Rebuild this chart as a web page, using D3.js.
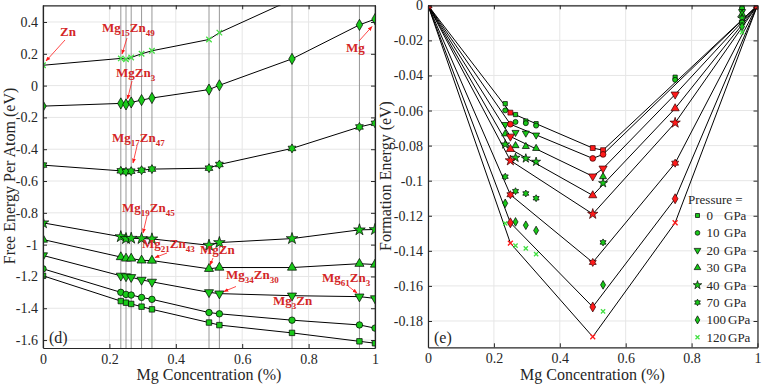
<!DOCTYPE html>
<html>
<head>
<meta charset="utf-8">
<script src="https://cdn.jsdelivr.net/npm/d3@7"></script>
<style>
body { margin: 0; background: #fff; }
svg, svg text { font-family: "Liberation Serif", "DejaVu Serif", serif; }
</style>
</head>
<body>
<svg id="chart" width="763" height="387"></svg>
<script>
// Mg fraction of each phase: Zn, Mg15Zn49, MgZn3, Mg17Zn47, Mg19Zn45, Mg21Zn43, MgZn, Mg34Zn30, Mg3Zn, Mg61Zn3, Mg
const mgConc = [0, 15/64, 16/64, 17/64, 19/64, 21/64, 0.5, 34/64, 0.75, 61/64, 1];
const pressures = [0, 10, 20, 30, 40, 70, 100, 120];
const shapes = ['square', 'circle', 'triDown', 'triUp', 'star', 'hexagram', 'diamond', 'x'];

// free energy per atom (eV), one list per pressure
const free0   = [-1.196, -1.355, -1.365, -1.373, -1.39, -1.407, -1.49, -1.506, -1.555, -1.608, -1.62];
const free10  = [-1.152, -1.3, -1.313, -1.317, -1.332, -1.344, -1.427, -1.435, -1.475, -1.505, -1.525];
const free20  = [-1.068, -1.196, -1.2, -1.205, -1.222, -1.234, -1.3, -1.308, -1.321, -1.327, -1.338];
const free30  = [-0.968, -1.078, -1.087, -1.087, -1.099, -1.1, -1.152, -1.144, -1.144, -1.12, -1.125];
const free40  = [-0.863, -0.95, -0.962, -0.96, -0.962, -0.964, -1.004, -0.987, -0.962, -0.907, -0.905];
const free70  = [-0.5, -0.536, -0.542, -0.538, -0.532, -0.525, -0.519, -0.496, -0.395, -0.26, -0.237];
const free100 = [-0.129, -0.112, -0.118, -0.106, -0.091, -0.078, -0.025, 0.002, 0.168, 0.382, 0.418];
const free120 = [0.128, 0.171, 0.166, 0.177, 0.2, 0.219, 0.29, 0.333, 0.541, 0.796, 0.845];
const freeEnergy = [free0, free10, free20, free30, free40, free70, free100, free120];

// formation energy (eV), one list per pressure
const form0   = [0, -0.0561, -0.0612, -0.0623, -0.066, -0.0675, -0.0814, -0.0826, -0.041, -0.0008, 0];
const form10  = [0, -0.0599, -0.0678, -0.0665, -0.0672, -0.0686, -0.0873, -0.085, -0.0425, -0.0017, 0];
const form20  = [0, -0.068, -0.0748, -0.0725, -0.0729, -0.074, -0.0975, -0.093, -0.0508, -0.0036, 0];
const form30  = [0, -0.0733, -0.082, -0.08, -0.0805, -0.0816, -0.1084, -0.0977, -0.0588, -0.005, 0];
const form40  = [0, -0.0793, -0.0885, -0.0869, -0.0873, -0.0892, -0.119, -0.1014, -0.067, -0.0074, 0];
const form70  = [0, -0.0977, -0.108, -0.106, -0.1073, -0.11, -0.1466, -0.1352, -0.09, -0.0098, 0];
const form100 = [0, -0.1129, -0.124, -0.1235, -0.1254, -0.1284, -0.172, -0.1594, -0.1103, -0.0121, 0];
const form120 = [0, -0.1243, -0.1356, -0.137, -0.1386, -0.1419, -0.189, -0.1745, -0.124, -0.0153, 0];
const formEnergy = [form0, form10, form20, form30, form40, form70, form100, form120];

// indices of phases on the convex hull for each pressure
const hull = [
  [0, 2, 6, 7, 10], [0, 2, 6, 7, 10], [0, 2, 6, 7, 8, 10], [0, 2, 6, 8, 10],
  [0, 2, 6, 8, 10], [0, 2, 6, 8, 10], [0, 2, 6, 8, 10], [0, 2, 6, 8, 10]
];

const xTicks = [0, 0.2, 0.4, 0.6, 0.8, 1];
const leftTicks = [0.4, 0.2, 0, -0.2, -0.4, -0.6, -0.8, -1, -1.2, -1.4, -1.6];
const rightTicks = [0, -0.02, -0.04, -0.06, -0.08, -0.1, -0.12, -0.14, -0.16, -0.18];

// phase labels: [text, subscript] pieces
const labels = [
  [['Zn', '']],
  [['Mg', '15'], ['Zn', '49']],
  [['MgZn', '3']],
  [['Mg', '17'], ['Zn', '47']],
  [['Mg', '19'], ['Zn', '45']],
  [['Mg', '21'], ['Zn', '43']],
  [['MgZn', '']],
  [['Mg', '34'], ['Zn', '30']],
  [['Mg', '3'], ['Zn', '']],
  [['Mg', '61'], ['Zn', '3']],
  [['Mg', '']]
];

const FONT = '"Liberation Serif", "DejaVu Serif", serif';
const green = '#19c819', lightGreen = '#44e044', red = '#ff1a1a', ink = '#262626';
const svg = d3.select('#chart').attr('font-family', FONT);

// symbols
const hexagram = { draw(ctx, size) {
  const r = Math.sqrt(size) * 0.72, ri = r / Math.sqrt(3);
  for (let i = 0; i < 12; i++) {
    const a = i * Math.PI / 6 - Math.PI / 2, rr = i % 2 ? ri : r;
    if (i === 0) ctx.moveTo(rr * Math.cos(a), rr * Math.sin(a));
    else ctx.lineTo(rr * Math.cos(a), rr * Math.sin(a));
  }
  ctx.closePath();
}};
const triDown = { draw(ctx, size) {
  const y = -Math.sqrt(size / (Math.sqrt(3) * 3));
  ctx.moveTo(0, -y * 2); ctx.lineTo(-Math.sqrt(3) * y, y); ctx.lineTo(Math.sqrt(3) * y, y); ctx.closePath();
}};
const crossX = { draw(ctx, size) {
  const r = Math.sqrt(size) / 2;
  ctx.moveTo(-r, -r); ctx.lineTo(r, r); ctx.moveTo(r, -r); ctx.lineTo(-r, r);
}};
const symbolTypes = {
  square: [d3.symbolSquare, 1], circle: [d3.symbolCircle, 1.1], triDown: [triDown, 1.2],
  triUp: [d3.symbolTriangle, 1.2], star: [d3.symbolStar, 1.4], hexagram: [hexagram, 1.3],
  diamond: [d3.symbolDiamond, 1.2], x: [crossX, 1]
};
function symPath(shape, base) {
  const t = symbolTypes[shape];
  return d3.symbol().type(t[0]).size(base * t[1])();
}

function drawMarker(g, shape, x, y, base, fill, stroke) {
  const p = g.append('path').attr('d', symPath(shape, base)).attr('transform', `translate(${x},${y})`);
  if (shape === 'x') p.attr('fill', 'none').attr('stroke', fill).attr('stroke-width', 1.3);
  else p.attr('fill', fill).attr('stroke', stroke).attr('stroke-width', 0.7);
}

const defs = svg.append('defs');
defs.append('marker').attr('id', 'arrow').attr('viewBox', '0 0 10 10').attr('refX', 9).attr('refY', 5)
  .attr('markerWidth', 6).attr('markerHeight', 6).attr('orient', 'auto')
  .append('path').attr('d', 'M0,1 L10,5 L0,9 z').attr('fill', red);

function frame(g, x, y, yTicks, box, clipId) {
  g.append('g').selectAll('line').data(yTicks).join('line')
    .attr('x1', box.x0).attr('x2', box.x1).attr('y1', d => y(d)).attr('y2', d => y(d))
    .attr('stroke', '#e6e6e6');
  g.append('g').selectAll('line').data(xTicks).join('line')
    .attr('x1', d => x(d)).attr('x2', d => x(d)).attr('y1', box.y0).attr('y2', box.y1)
    .attr('stroke', '#e6e6e6');
  defs.append('clipPath').attr('id', clipId).append('rect')
    .attr('x', box.x0).attr('y', box.y0).attr('width', box.x1 - box.x0).attr('height', box.y1 - box.y0);
}

function axes(g, x, y, yTicks, fmtY, box) {
  const fmtX = d => String(d);
  const bottom = g.append('g').attr('transform', `translate(0,${box.y1})`)
    .call(d3.axisBottom(x).tickValues(xTicks).tickSize(-4).tickSizeOuter(0).tickPadding(6).tickFormat(fmtX));
  const top = g.append('g').attr('transform', `translate(0,${box.y0})`)
    .call(d3.axisTop(x).tickValues(xTicks).tickSize(-4).tickSizeOuter(0).tickFormat(''));
  const left = g.append('g').attr('transform', `translate(${box.x0},0)`)
    .call(d3.axisLeft(y).tickValues(yTicks).tickSize(-4).tickSizeOuter(0).tickPadding(5).tickFormat(fmtY));
  const right = g.append('g').attr('transform', `translate(${box.x1},0)`)
    .call(d3.axisRight(y).tickValues(yTicks).tickSize(-4).tickSizeOuter(0).tickFormat(''));
  [bottom, top, left, right].forEach(a => {
    a.attr('font-family', FONT).attr('font-size', 14);
    a.select('.domain').attr('stroke', ink).attr('stroke-width', 1.2);
    a.selectAll('.tick line').attr('stroke', ink);
    a.selectAll('.tick text').attr('fill', ink);
  });
}

// ---------- left panel: free energy ----------
const L = { x0: 43, x1: 375, y0: 5.3, y1: 348 };
const xL = d3.scaleLinear().domain([0, 1]).range([L.x0, L.x1]);
const yL = d3.scaleLinear().domain([-1.65, 0.505]).range([L.y1, L.y0]);
const gL = svg.append('g');
frame(gL, xL, yL, leftTicks, L, 'clipL');

gL.append('g').selectAll('line').data(mgConc).join('line')
  .attr('x1', d => xL(d)).attr('x2', d => xL(d)).attr('y1', L.y0).attr('y2', L.y1)
  .attr('stroke', '#8c8c8c').attr('stroke-width', 0.9);

const plotL = gL.append('g').attr('clip-path', 'url(#clipL)');
const lineL = d3.line().x(d => xL(d[0])).y(d => yL(d[1]));
freeEnergy.forEach(row => {
  plotL.append('path').attr('d', lineL(row.map((v, j) => [mgConc[j], v])))
    .attr('fill', 'none').attr('stroke', '#000').attr('stroke-width', 1);
});
freeEnergy.forEach((row, i) => {
  row.forEach((v, j) => {
    drawMarker(plotL, shapes[i], xL(mgConc[j]), yL(v), 30, shapes[i] === 'x' ? lightGreen : green, '#000');
  });
});
axes(gL, xL, yL, leftTicks, d => String(+d.toFixed(1)), L);

// phase annotations on the left panel
const notes = [
  { i: 0, tx: 60, ty: 36, from: [65, 40], to: [46, 61] },
  { i: 1, tx: 102, ty: 32, from: [127, 38], to: [122, 54] },
  { i: 2, tx: 116, ty: 77, from: [132, 81], to: [127.5, 99] },
  { i: 3, tx: 112, ty: 142, from: [137, 146], to: [133, 163] },
  { i: 4, tx: 122, ty: 212, from: [147, 216], to: [143, 233] },
  { i: 5, tx: 142, ty: 248, from: [167, 253], to: [155, 257.5] },
  { i: 6, tx: 200, ty: 254, from: [213, 258], to: [210, 265] },
  { i: 7, tx: 226, ty: 279, from: [236, 286.5], to: [224, 291.5] },
  { i: 8, tx: 273, ty: 305 },
  { i: 9, tx: 322, ty: 282, from: [348, 286], to: [357, 293] },
  { i: 10, tx: 346, ty: 52, from: [359, 41], to: [372, 26.5] }
];
const noteG = gL.append('g');
notes.forEach(n => {
  const t = noteG.append('text').attr('x', n.tx).attr('y', n.ty).attr('fill', '#d42626')
    .attr('font-weight', 'bold').attr('font-size', 13);
  let shifted = false;
  labels[n.i].forEach(([main, sub]) => {
    const a = t.append('tspan').text(main);
    if (shifted) { a.attr('dy', -3.5); shifted = false; }
    if (sub) { t.append('tspan').text(sub).attr('font-size', 9).attr('dy', 3.5); shifted = true; }
  });
  if (n.from) {
    noteG.append('line').attr('x1', n.from[0]).attr('y1', n.from[1]).attr('x2', n.to[0]).attr('y2', n.to[1])
      .attr('stroke', red).attr('stroke-width', 0.8).attr('marker-end', 'url(#arrow)');
  }
});
gL.append('text').attr('x', 49).attr('y', 343).attr('font-size', 16).attr('fill', ink).text('(d)');

// ---------- right panel: formation energy ----------
const R = { x0: 428, x1: 757.5, y0: 5.3, y1: 347.3 };
const xR = d3.scaleLinear().domain([0, 1]).range([R.x0, R.x1]);
const yR = d3.scaleLinear().domain([-0.195, 0]).range([R.y1, R.y0]);
const gR = svg.append('g');
frame(gR, xR, yR, rightTicks, R, 'clipR');
const plotR = gR.append('g').attr('clip-path', 'url(#clipR)');
const lineR = d3.line().x(d => xR(d[0])).y(d => yR(d[1]));
formEnergy.forEach((row, i) => {
  plotR.append('path').attr('d', lineR(hull[i].map(j => [mgConc[j], row[j]])))
    .attr('fill', 'none').attr('stroke', '#000').attr('stroke-width', 1);
});
formEnergy.forEach((row, i) => {
  row.forEach((v, j) => {
    if (hull[i].includes(j)) return;
    drawMarker(plotR, shapes[i], xR(mgConc[j]), yR(v), 18, shapes[i] === 'x' ? lightGreen : green, '#000');
  });
});
formEnergy.forEach((row, i) => {
  hull[i].forEach(j => {
    drawMarker(plotR, shapes[i], xR(mgConc[j]), yR(row[j]), 24, red, '#330000');
  });
});
axes(gR, xR, yR, rightTicks, d => String(+d.toFixed(2)), R);
gR.append('text').attr('x', 434).attr('y', 343).attr('font-size', 16).attr('fill', ink).text('(e)');

// legend
const leg = gR.append('g').attr('font-size', 13).attr('fill', ink);
leg.append('text').attr('x', 688).attr('y', 204).text('Pressure =');
pressures.forEach((p, i) => {
  const yy = 220 + i * 17.4;
  drawMarker(leg, shapes[i], 697.5, yy - 4.5, 16, shapes[i] === 'x' ? lightGreen : green, '#000');
  leg.append('text').attr('x', 706.5).attr('y', yy).text(p);
  leg.append('text').attr('x', p >= 100 ? 728 : 724).attr('y', yy).text('GPa');
});

// axis titles
const titles = svg.append('g').attr('font-size', 16).attr('fill', ink);
titles.append('text').attr('x', 209).attr('y', 380).attr('text-anchor', 'middle').text('Mg Concentration (%)');
titles.append('text').attr('x', 592.5).attr('y', 380).attr('text-anchor', 'middle').text('Mg Concentration (%)');
titles.append('text').attr('transform', 'translate(15,176) rotate(-90)').attr('text-anchor', 'middle')
  .text('Free Energy Per Atom (eV)');
titles.append('text').attr('transform', 'translate(391,176) rotate(-90)').attr('text-anchor', 'middle')
  .text('Formation Energy (eV)');
</script>
</body>
</html>
